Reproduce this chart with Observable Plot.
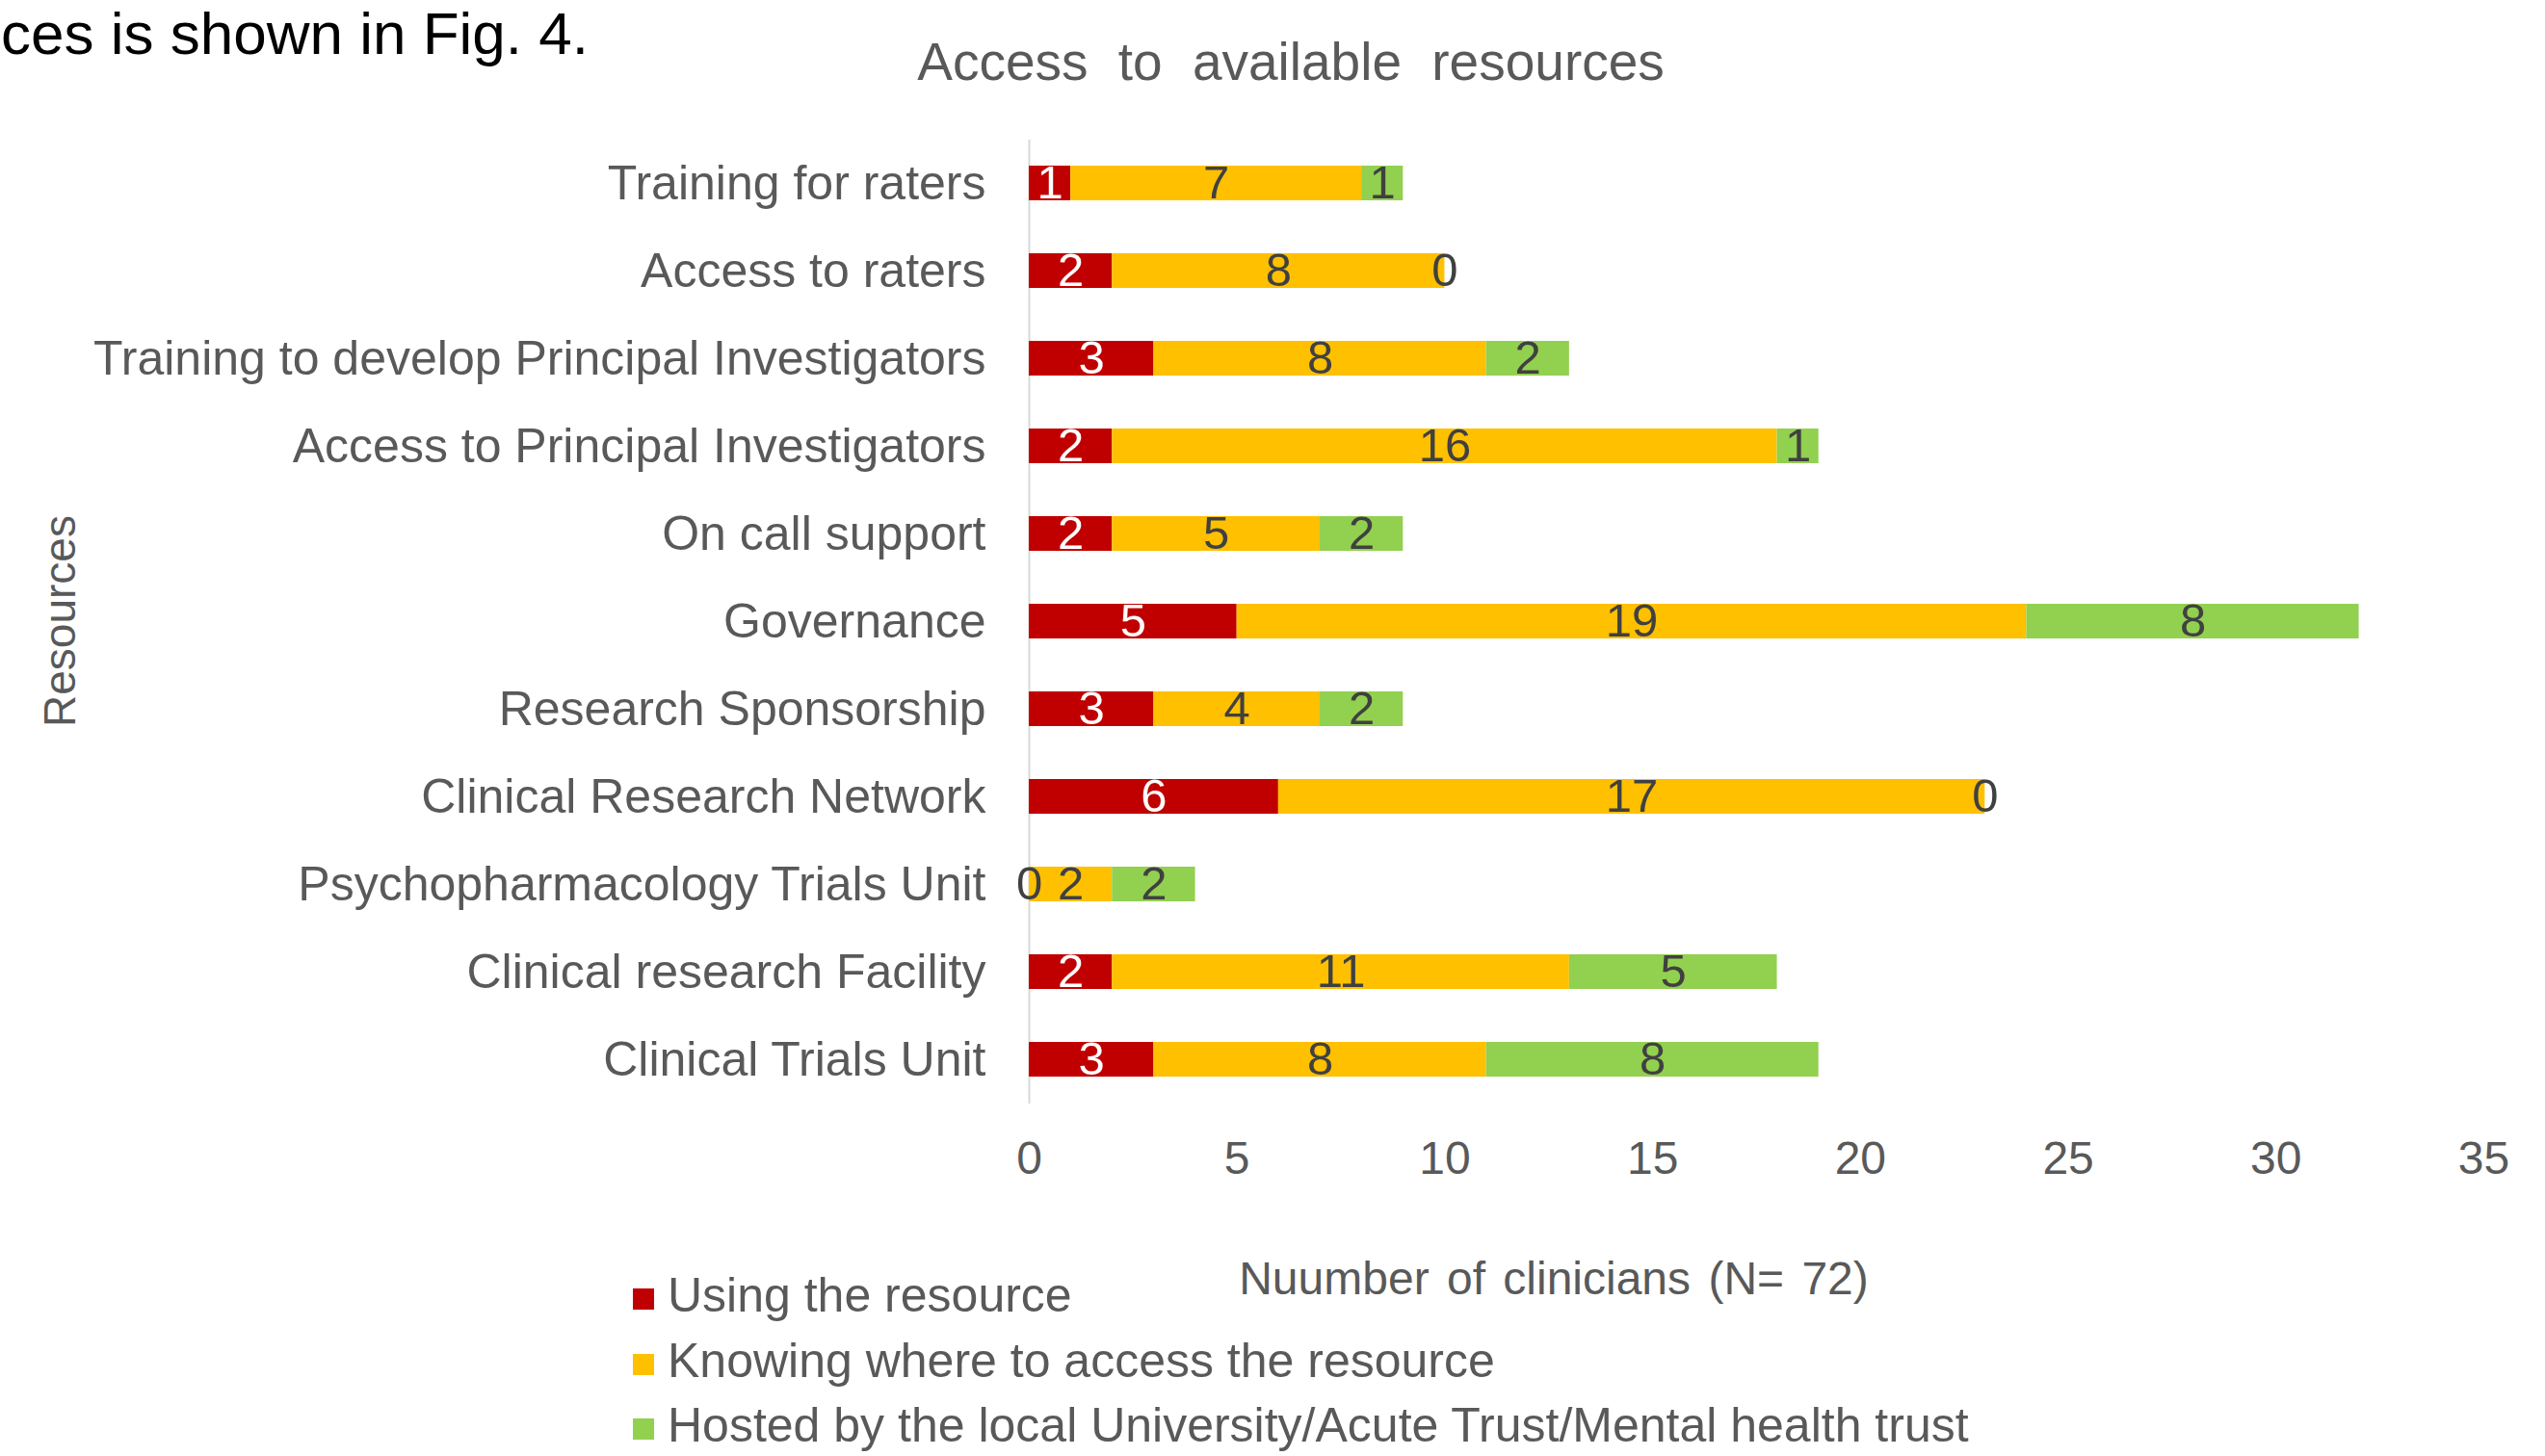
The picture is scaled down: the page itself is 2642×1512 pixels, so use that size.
<!DOCTYPE html>
<html><head><meta charset="utf-8">
<script src="https://cdn.jsdelivr.net/npm/d3@7"></script>
<script src="https://cdn.jsdelivr.net/npm/@observablehq/plot@0.6"></script>
<style>
body{margin:0;background:#fff;font-family:"Liberation Sans",Arial,sans-serif;}
#wrap{position:relative;width:2642px;height:1512px;overflow:hidden;background:#fff;}
#wrap svg{position:absolute;left:0;top:0;}
.t{position:absolute;white-space:nowrap;line-height:1;color:#595959;}
.frag{position:absolute;white-space:nowrap;line-height:1.12;color:#000;left:1px;top:0;font-size:62px;}
.leg{position:absolute;white-space:nowrap;line-height:1;color:#595959;font-size:50px;}
.sw{display:inline-block;width:22px;height:22px;margin-right:14px;vertical-align:0.05em;}
</style></head><body><div id="wrap"></div>
<script>
const resources = [
  "Training for raters",
  "Access to raters",
  "Training to develop Principal Investigators",
  "Access to Principal Investigators",
  "On call support",
  "Governance",
  "Research Sponsorship",
  "Clinical Research Network",
  "Psychopharmacology Trials Unit",
  "Clinical research Facility",
  "Clinical Trials Unit"
];
const series = [
  "Using the resource",
  "Knowing where to access the resource",
  "Hosted by the local University/Acute Trust/Mental health trust"
];
const seriesColors = ["#C00000", "#FFC000", "#92D050"];
const usingValues   = [1, 2, 3, 2, 2, 5, 3, 6, 0, 2, 3];
const knowingValues = [7, 8, 8, 16, 5, 19, 4, 17, 2, 11, 8];
const hostedValues  = [1, 0, 2, 1, 2, 8, 2, 0, 2, 5, 8];
const xTicks = [0, 5, 10, 15, 20, 25, 30, 35];
const chartTitle = "Access to available resources";
const xLabel = "Nuumber of clinicians (N= 72)";
const yLabel = "Resources";
const fragmentText = "ces is shown in Fig. 4.";

const seriesValues = [usingValues, knowingValues, hostedValues];
const data = [];
series.forEach((s, si) => {
  resources.forEach((r, ri) => {
    data.push({resource: r, series: s, value: seriesValues[si][ri]});
  });
});

const wrap = document.getElementById("wrap");
const font = "Liberation Sans, Arial, sans-serif";
const whiteLabel = d => d.series === series[0] && d.value > 0;

const chart = Plot.plot({
  width: 2642,
  height: 1512,
  marginLeft: 1068,
  marginRight: 64,
  marginTop: 145,
  marginBottom: 366,
  style: {fontFamily: font, background: "transparent", overflow: "visible"},
  x: {domain: [0, 35]},
  y: {domain: resources, paddingInner: 0.6, paddingOuter: 0.3},
  color: {domain: series, range: seriesColors},
  marks: [
    Plot.ruleX([0], {stroke: "#d9d9d9", strokeWidth: 2}),
    Plot.barX(data, Plot.stackX({x: "value", y: "resource", fill: "series"})),
    Plot.text(data, Plot.stackX({
      x: "value", y: "resource", z: "series",
      text: d => whiteLabel(d) ? String(d.value) : "",
      fill: "#ffffff", fontSize: 49
    })),
    Plot.text(data, Plot.stackX({
      x: "value", y: "resource", z: "series",
      text: d => !whiteLabel(d) ? String(d.value) : "",
      fill: "#404040", fontSize: 49
    })),
    Plot.axisX({ticks: xTicks, tickSize: 0, tickPadding: 38, fontSize: 48, color: "#595959", label: null}),
    Plot.axisY({tickSize: 0, tickPadding: 45, fontSize: 50, color: "#595959", label: null})
  ]
});
wrap.appendChild(chart);

function addText(txt, cls, x, y, size, extra) {
  const d = document.createElement("div");
  d.className = cls;
  d.textContent = txt;
  d.style.left = x + "px";
  d.style.top = (y - size / 2) + "px";
  d.style.fontSize = size + "px";
  Object.assign(d.style, extra || {});
  wrap.appendChild(d);
  return d;
}

// fragment of body text from the page
const frag = document.createElement("div");
frag.className = "frag";
frag.textContent = fragmentText;
wrap.appendChild(frag);
// title
addText(chartTitle, "t", 1340, 64, 55, {transform: "translateX(-50%)", wordSpacing: "16px"});
// x axis title
addText(xLabel, "t", 1613, 1328, 48, {transform: "translateX(-50%)", wordSpacing: "5px"});
// y axis title
addText(yLabel, "t", 62, 645, 46, {transform: "translate(-50%,0) rotate(-90deg)", transformOrigin: "50% 50%"});

// legend
const legendY = [1345, 1413, 1480];
series.forEach((s, i) => {
  const d = document.createElement("div");
  d.className = "leg";
  d.style.left = "657px";
  d.style.top = (legendY[i] - 25) + "px";
  const sw = document.createElement("span");
  sw.className = "sw";
  sw.style.background = seriesColors[i];
  d.appendChild(sw);
  d.appendChild(document.createTextNode(s));
  wrap.appendChild(d);
});
</script>
</body></html>
